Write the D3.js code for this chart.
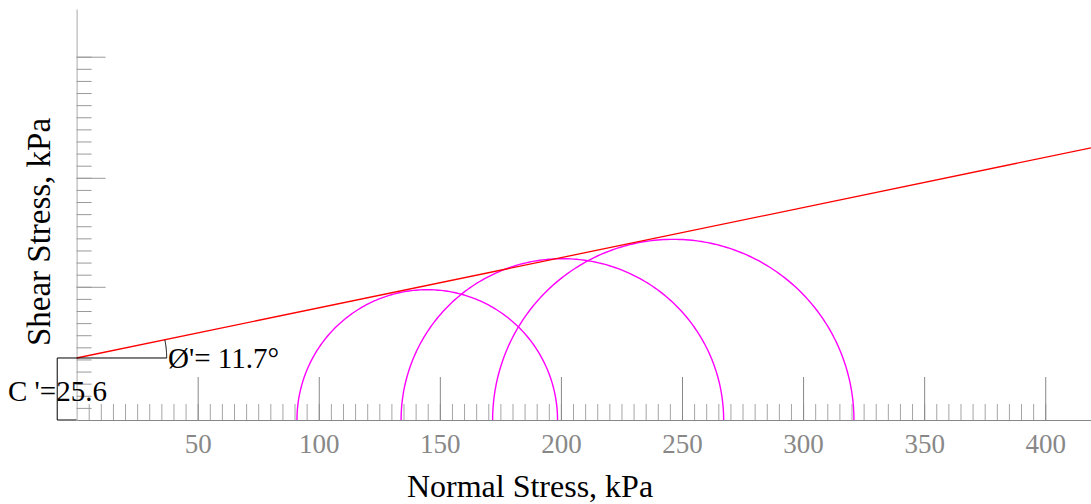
<!DOCTYPE html>
<html>
<head>
<meta charset="utf-8">
<script src="https://cdn.jsdelivr.net/npm/d3@7"></script>
<style>
  body { margin: 0; background: #fff; }
  text { font-family: "Liberation Serif", "Times New Roman", serif; }
</style>
</head>
<body>
<script>
// Mohr circles (kPa)
var sigma3 = [91.0, 134.0, 171.8];
var sigma1 = [198.6, 267.2, 321.0];
var cohesion = 25.6;
var phiDeg = 11.7;

// tick values
var xMajorTicks = [50, 100, 150, 200, 250, 300, 350, 400];
var xMinorTicks = d3.range(5, 405, 5);
var yMajorTicks = [55, 100, 150];
var yMinorTicks = d3.range(5, 155, 5);

var svgWidth = 1091, svgHeight = 504;

var svg = d3.select("body").append("svg")
  .attr("width", svgWidth)
  .attr("height", svgHeight);

// same px per kPa on both axes
var x = d3.scaleLinear().domain([0, 418.9]).range([76.6, 1091]);
var y = d3.scaleLinear().domain([0, 169.7]).range([420, 9]);

// x axis: minor ticks, then major ticks with labels
svg.append("g")
  .attr("transform", `translate(0, ${y(0)})`)
  .call(d3.axisBottom(x).tickValues(xMinorTicks).tickSizeInner(-16).tickSizeOuter(0).tickFormat(""))
  .call(g => g.selectAll(".tick line").attr("stroke", "#a5a5a5"))
  .call(g => g.select(".domain").attr("stroke", "#888"));

svg.append("g")
  .attr("transform", `translate(0, ${y(0)})`)
  .call(d3.axisBottom(x).tickValues(xMajorTicks).tickSizeInner(-43).tickSizeOuter(0).tickPadding(14))
  .call(g => g.select(".domain").remove())
  .call(g => g.selectAll(".tick line").attr("stroke", "#888"))
  .call(g => g.selectAll(".tick text")
    .attr("fill", "#888")
    .style("font-size", "27px")
    .style("font-family", "'Liberation Serif', 'Times New Roman', serif"));

// y axis
svg.append("g")
  .attr("transform", `translate(${x(0)}, 0)`)
  .call(d3.axisLeft(y).tickValues(yMinorTicks).tickSizeInner(-15).tickSizeOuter(0).tickFormat(""))
  .call(g => g.selectAll(".tick line").attr("stroke", "#999"))
  .call(g => g.select(".domain").attr("stroke", "#aaa"));

svg.append("g")
  .attr("transform", `translate(${x(0)}, 0)`)
  .call(d3.axisLeft(y).tickValues(yMajorTicks).tickSizeInner(-29).tickSizeOuter(0).tickFormat(""))
  .call(g => g.select(".domain").remove())
  .call(g => g.selectAll(".tick line").attr("stroke", "#999"));

// axis titles
svg.append("text")
  .attr("x", 530).attr("y", 497)
  .attr("text-anchor", "middle")
  .style("font-size", "32px")
  .text("Normal Stress, kPa");

svg.append("text")
  .attr("transform", "translate(50, 232) rotate(-90)")
  .attr("text-anchor", "middle")
  .style("font-size", "33px")
  .text("Shear Stress, kPa");

// Mohr circles (upper halves)
var circles = sigma3.map((s3, i) => ({ c: (s3 + sigma1[i]) / 2, r: (sigma1[i] - s3) / 2 }));

svg.selectAll(".mohr")
  .data(circles)
  .enter()
  .append("path")
  .attr("class", "mohr")
  .attr("fill", "none")
  .attr("stroke", "#ff00ff")
  .attr("stroke-width", 1.4)
  .attr("d", d => {
    var pts = d3.range(0, 181).map(a => {
      var t = a * Math.PI / 180;
      return [x(d.c + d.r * Math.cos(t)), y(d.r * Math.sin(t))];
    });
    return d3.line()(pts);
  });

// failure envelope
var tanPhi = Math.tan(phiDeg * Math.PI / 180);
var sMax = x.domain()[1];
svg.append("line")
  .attr("x1", x(0)).attr("y1", y(cohesion))
  .attr("x2", x(sMax)).attr("y2", y(cohesion + sMax * tanPhi))
  .attr("stroke", "#ff0000")
  .attr("stroke-width", 1.3);

// cohesion bracket + angle marker
var armLen = 37.2;
svg.append("path")
  .attr("fill", "none")
  .attr("stroke", "#000")
  .attr("stroke-width", 1)
  .attr("d", d3.line()([[x(0), y(0)], [x(-8), y(0)], [x(-8), y(cohesion)], [x(armLen), y(cohesion)]]));

var arcPts = d3.range(0, phiDeg + 0.01, 0.5).map(a => {
  var t = a * Math.PI / 180;
  return [x(armLen * Math.cos(t)), y(cohesion + armLen * Math.sin(t))];
});
svg.append("path")
  .attr("fill", "none")
  .attr("stroke", "#000")
  .attr("stroke-width", 1)
  .attr("d", d3.line()(arcPts));

svg.append("text")
  .attr("x", 168).attr("y", 368)
  .style("font-size", "29px")
  .text("\u00D8'= " + phiDeg + "\u00B0");

svg.append("text")
  .attr("x", 8).attr("y", 401)
  .style("font-size", "29px")
  .text("C '=" + cohesion);
</script>
</body>
</html>
